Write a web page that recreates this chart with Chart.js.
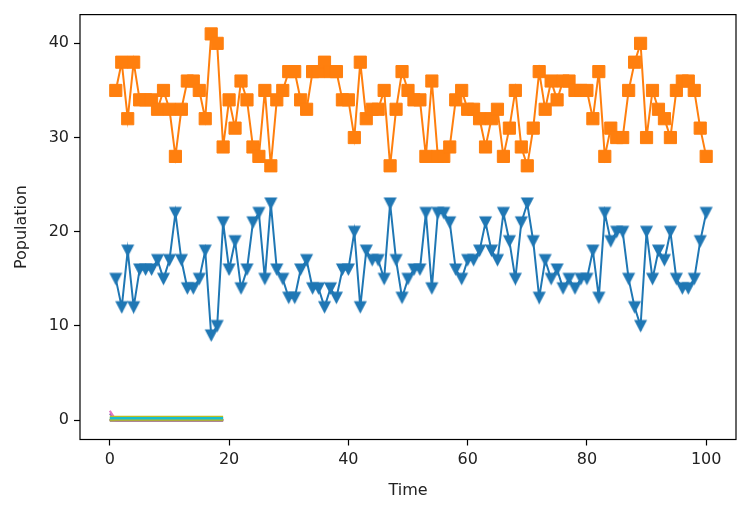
<!DOCTYPE html>
<html>
<head>
<meta charset="utf-8">
<script src="https://cdn.jsdelivr.net/npm/chart.js@4.4.1/dist/chart.umd.min.js"></script>
<style>
  html, body { margin: 0; padding: 0; background: #ffffff; }
  #c { display: block; }
</style>
</head>
<body>
<canvas id="c" width="747" height="513"></canvas>
<script>
// ---- data ----
const timeMain = [1,2,3,4,5,6,7,8,9,10,11,12,13,14,15,16,17,18,19,20,
  21,22,23,24,25,26,27,28,29,30,31,32,33,34,35,36,37,38,39,40,
  41,42,43,44,45,46,47,48,49,50,51,52,53,54,55,56,57,58,59,60,
  61,62,63,64,65,66,67,68,69,70,71,72,73,74,75,76,77,78,79,80,
  81,82,83,84,85,86,87,88,89,90,91,92,93,94,95,96,97,98,99,100];

const blueSeries = [15,12,18,12,16,16,16,17,15,17,22,17,14,14,15,18,9,10,21,16,
  19,14,16,21,22,15,23,16,15,13,13,16,17,14,14,12,14,13,16,16,
  20,12,18,17,17,15,23,17,13,15,16,16,22,14,22,22,21,16,15,17,
  17,18,21,18,17,22,19,15,21,23,19,13,17,15,16,14,15,14,15,15,
  18,13,22,19,20,20,15,12,10,20,15,18,17,20,15,14,14,15,19,22];

const orangeSeries = [35,38,32,38,34,34,34,33,35,33,28,33,36,36,35,32,41,40,29,34,
  31,36,34,29,28,35,27,34,35,37,37,34,33,37,37,38,37,37,34,34,
  30,38,32,33,33,35,27,33,37,35,34,34,28,36,28,28,29,34,35,33,
  33,32,29,32,33,28,31,35,29,27,31,37,33,36,34,36,36,35,35,35,
  32,37,28,31,30,30,35,38,40,30,35,33,32,30,35,36,36,35,31,28];

const timeLow = [0,1,2,3,4,5,6,7,8,9,10,11,12,13,14,15,16,17,18,19];
const greenSeries  = [0,0,0,0,0,0,0,0,0,0,0,0,0,0,0,0,0,0,0,0];
const redSeries    = [0,0,0,0,0,0,0,0,0,0,0,0,0,0,0,0,0,0,0,0];
const purpleSeries = [0.7,0,0,0,0,0,0,0,0,0,0,0,0,0,0,0,0,0,0,0];
const brownSeries  = [0,0,0,0,0,0,0,0,0,0,0,0,0,0,0,0,0,0,0,0];
const pinkSeries   = [1,0,0,0,0,0,0,0,0,0,0,0,0,0,0,0,0,0,0,0];
const graySeries   = [0,0,0,0,0,0,0,0,0,0,0,0,0,0,0,0,0,0,0,0];
const oliveSeries  = [0.2,0.2,0.2,0.2,0.2,0.2,0.2,0.2,0.2,0.2,0.2,0.2,0.2,0.2,0.2,0.2,0.2,0.2,0.2,0.2];
const cyanSeries   = [0.2,0.2,0.2,0.2,0.2,0.2,0.2,0.2,0.2,0.2,0.2,0.2,0.2,0.2,0.2,0.2,0.2,0.2,0.2,0.2];

const xTicks = [0, 20, 40, 60, 80, 100];
const yTicks = [0, 10, 20, 30, 40];
const xLabel = 'Time';
const yLabel = 'Population';

// ---- helpers ----
function pts(xs, ys) { return xs.map((x, i) => ({ x: x, y: ys[i] })); }

function triDown(color) {
  const c = document.createElement('canvas');
  c.width = 15; c.height = 15;
  const g = c.getContext('2d');
  g.fillStyle = color;
  g.beginPath();
  g.moveTo(1, 1.5); g.lineTo(14, 1.5); g.lineTo(7.5, 14);
  g.closePath();
  g.fill();
  return c;
}

const FONT = { family: '"DejaVu Sans", sans-serif', size: 16 };

function lowSet(data, color, order, width) {
  return {
    data: pts(timeLow, data), borderColor: color, backgroundColor: color,
    borderWidth: width || 2.2, pointRadius: 0, order: order, tension: 0
  };
}

const boxPlugin = {
  id: 'box',
  afterDraw(chart) {
    const a = chart.chartArea, ctx = chart.ctx;
    ctx.save();
    ctx.strokeStyle = '#000';
    ctx.lineWidth = 1.2;
    ctx.strokeRect(a.left, a.top, a.right - a.left, a.bottom - a.top);
    ctx.restore();
  }
};

new Chart(document.getElementById('c'), {
  type: 'line',
  data: {
    datasets: [
      { data: pts(timeMain, blueSeries), borderColor: '#1f77b4', backgroundColor: '#1f77b4',
        borderWidth: 2, pointStyle: triDown('#1f77b4'), pointRadius: 7, order: 10, tension: 0 },
      { data: pts(timeMain, orangeSeries), borderColor: '#ff7f0e', backgroundColor: '#ff7f0e',
        borderWidth: 2, pointStyle: 'rect', pointRadius: 8.6, pointBorderWidth: 1, order: 9, tension: 0 },
      lowSet(greenSeries, '#2ca02c', 8),
      lowSet(redSeries, '#d62728', 7),
      lowSet(purpleSeries, '#9467bd', 6),
      lowSet(brownSeries, '#8c564b', 5),
      lowSet(pinkSeries, '#e377c2', 4),
      lowSet(graySeries, '#7f7f7f', 3),
      lowSet(oliveSeries, '#bcbd22', 2, 5),
      lowSet(cyanSeries, '#17becf', 1, 2.6)
    ]
  },
  options: {
    responsive: false,
    animation: false,
    events: [],
    layout: { padding: { left: 0, right: 11, top: 13, bottom: 0 } },
    plugins: { legend: { display: false }, tooltip: { enabled: false } },
    scales: {
      x: {
        type: 'linear', min: -5, max: 105,
        afterBuildTicks(s) { s.ticks = xTicks.map(v => ({ value: v })); },
        afterFit(s) { s.height = 73.5; },
        grid: { display: true, drawOnChartArea: false, drawTicks: true, tickLength: 6, tickColor: '#000', tickWidth: 1.2 },
        border: { display: false },
        ticks: { padding: 5, color: '#222', font: FONT, maxRotation: 0, autoSkip: false },
        title: { display: true, text: xLabel, color: '#222', font: FONT, padding: { top: 0, bottom: 13 } }
      },
      y: {
        type: 'linear', min: -2.05, max: 43.05,
        afterBuildTicks(s) { s.ticks = yTicks.map(v => ({ value: v })); },
        afterFit(s) { s.width = 80; },
        grid: { display: true, drawOnChartArea: false, drawTicks: true, tickLength: 6, tickColor: '#000', tickWidth: 1.2 },
        border: { display: false },
        ticks: { padding: 5, color: '#222', font: FONT, autoSkip: false },
        title: { display: true, text: yLabel, color: '#222', font: FONT, padding: { top: 12, bottom: 0 } }
      }
    }
  },
  plugins: [boxPlugin]
});
</script>
</body>
</html>
